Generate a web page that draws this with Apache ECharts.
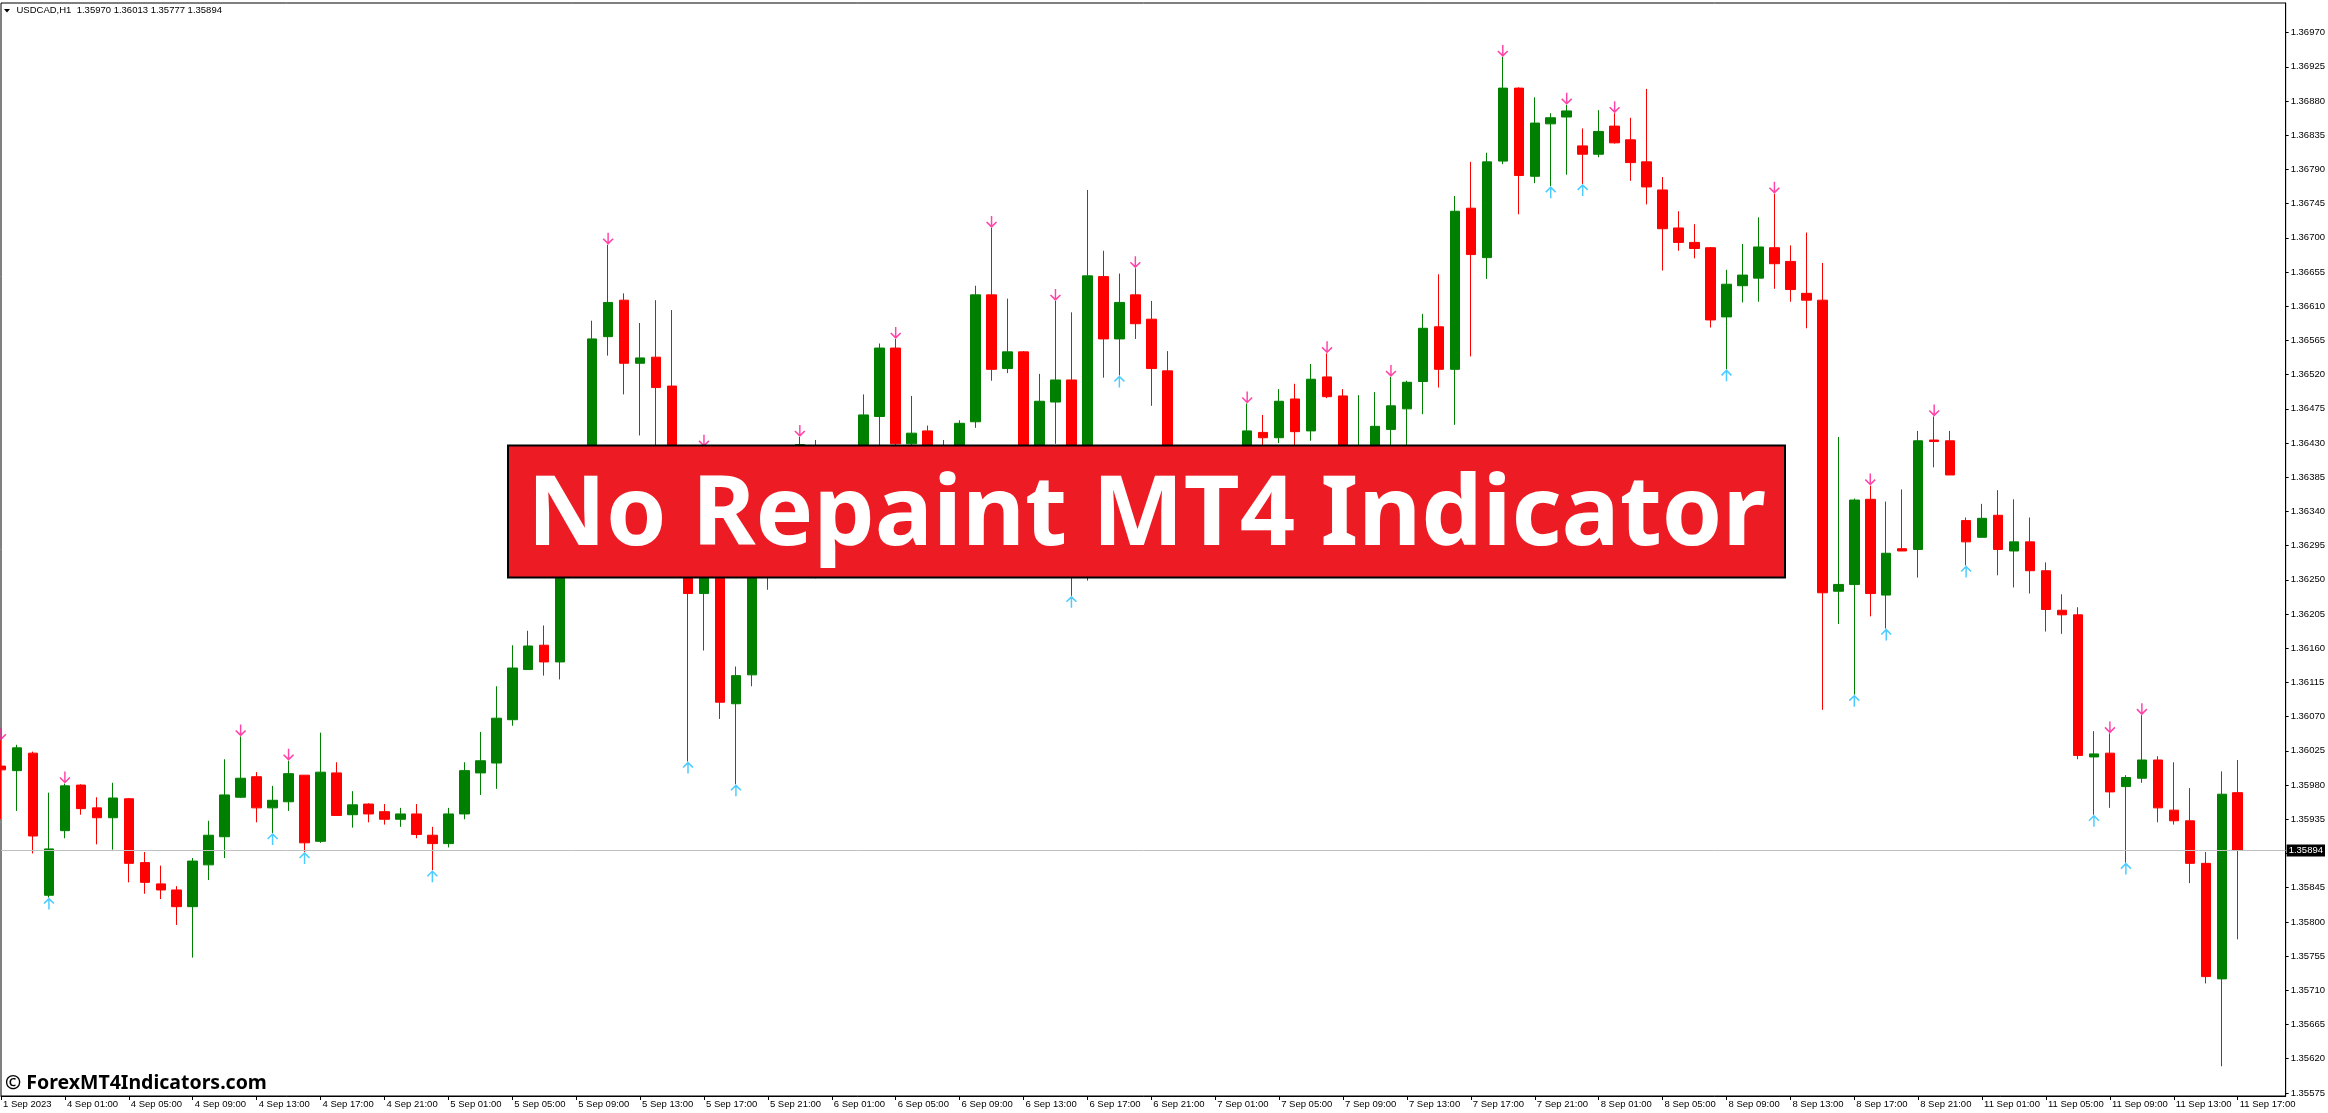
<!DOCTYPE html>
<html><head><meta charset="utf-8">
<script src="https://cdn.jsdelivr.net/npm/echarts@6/dist/echarts.min.js"></script>
<style>html,body{margin:0;padding:0;background:#fff}#c{width:2328px;height:1113px}</style>
</head><body><div id="c"></div>
<script>
const symbolName = 'USDCAD,H1';
const xTickLabels = ['1 Sep 2023',
 '4 Sep 01:00','4 Sep 05:00','4 Sep 09:00','4 Sep 13:00','4 Sep 17:00','4 Sep 21:00',
 '5 Sep 01:00','5 Sep 05:00','5 Sep 09:00','5 Sep 13:00','5 Sep 17:00','5 Sep 21:00',
 '6 Sep 01:00','6 Sep 05:00','6 Sep 09:00','6 Sep 13:00','6 Sep 17:00','6 Sep 21:00',
 '7 Sep 01:00','7 Sep 05:00','7 Sep 09:00','7 Sep 13:00','7 Sep 17:00','7 Sep 21:00',
 '8 Sep 01:00','8 Sep 05:00','8 Sep 09:00','8 Sep 13:00','8 Sep 17:00','8 Sep 21:00',
 '11 Sep 01:00','11 Sep 05:00','11 Sep 09:00','11 Sep 13:00','11 Sep 17:00'];
const yTickValues = [1.35575,1.35620,1.35665,1.35710,1.35755,1.35800,1.35845,1.35890,1.35935,1.35980,
 1.36025,1.36070,1.36115,1.36160,1.36205,1.36250,1.36295,1.36340,1.36385,1.36430,
 1.36475,1.36520,1.36565,1.36610,1.36655,1.36700,1.36745,1.36790,1.36835,1.36880,1.36925,1.36970];

const opens = [
 1.36005,1.35999,1.36022,1.35835,1.35920,1.35980,1.35950,1.35937,1.35962,1.35878,
 1.35850,1.35842,1.35820,1.35875,1.35912,1.35964,1.35991,1.35950,1.35958,1.35993,
 1.35906,1.35996,1.35941,1.35955,1.35945,1.35935,1.35942,1.35914,1.35903,1.35942,
 1.35996,1.36009,1.36066,1.36132,1.36164,1.36142,1.36300,1.36390,1.36570,1.36618,
 1.36535,1.36543,1.36505,1.36360,1.36232,1.36310,1.36087,1.36125,1.36330,1.36390,
 1.36400,1.36425,1.36330,1.36300,1.36350,1.36465,1.36555,1.36429,1.36446,1.36380,
 1.36340,1.36458,1.36625,1.36528,1.36550,1.36330,1.36484,1.36513,1.36300,1.36649,
 1.36567,1.36625,1.36593,1.36525,1.36380,1.36330,1.36360,1.36400,1.36390,1.36444,
 1.36437,1.36488,1.36446,1.36517,1.36492,1.36400,1.36410,1.36448,1.36475,1.36511,
 1.36583,1.36527,1.36739,1.36674,1.36801,1.36897,1.36781,1.36850,1.36859,1.36821,
 1.36810,1.36847,1.36829,1.36800,1.36763,1.36713,1.36694,1.36687,1.36596,1.36637,
 1.36647,1.36687,1.36669,1.36627,1.36618,1.36235,1.36244,1.36356,1.36230,1.36291,
 1.36290,1.36434,1.36433,1.36328,1.36306,1.36335,1.36288,1.36300,1.36262,1.36210,
 1.36204,1.36017,1.36022,1.35978,1.35989,1.36013,1.35947,1.35933,1.35877,1.35725,
 1.35970];
const highs = [
 1.36039,1.36033,1.36024,1.35970,1.35982,1.35981,1.35964,1.35983,1.35963,1.35892,
 1.35874,1.35847,1.35884,1.35933,1.36014,1.36044,1.35997,1.35979,1.36012,1.35993,
 1.36049,1.36010,1.35972,1.35956,1.35955,1.35950,1.35955,1.35925,1.35950,1.36010,
 1.36050,1.36110,1.36164,1.36183,1.36190,1.36310,1.36410,1.36591,1.36691,1.36627,
 1.36588,1.36618,1.36605,1.36380,1.36425,1.36330,1.36136,1.36360,1.36410,1.36420,
 1.36438,1.36434,1.36360,1.36380,1.36494,1.36561,1.36567,1.36492,1.36453,1.36434,
 1.36460,1.36637,1.36713,1.36620,1.36551,1.36521,1.36617,1.36602,1.36763,1.36683,
 1.36653,1.36660,1.36617,1.36551,1.36400,1.36380,1.36420,1.36415,1.36482,1.36467,
 1.36501,1.36508,1.36534,1.36548,1.36501,1.36493,1.36497,1.36517,1.36512,1.36600,
 1.36652,1.36755,1.36800,1.36812,1.36938,1.36898,1.36885,1.36864,1.36875,1.36844,
 1.36868,1.36864,1.36858,1.36896,1.36780,1.36735,1.36718,1.36688,1.36658,1.36692,
 1.36727,1.36758,1.36690,1.36707,1.36667,1.36438,1.36357,1.36374,1.36353,1.36369,
 1.36446,1.36465,1.36446,1.36332,1.36350,1.36368,1.36356,1.36332,1.36273,1.36231,
 1.36214,1.36051,1.36048,1.35993,1.36072,1.36018,1.36010,1.35976,1.35892,1.35998,
 1.36013];
const lows = [
 1.35935,1.35946,1.35890,1.35832,1.35910,1.35941,1.35902,1.35895,1.35852,1.35837,
 1.35830,1.35796,1.35753,1.35855,1.35884,1.35963,1.35931,1.35917,1.35946,1.35892,
 1.35904,1.35940,1.35924,1.35931,1.35928,1.35925,1.35910,1.35868,1.35898,1.35935,
 1.35967,1.35975,1.36058,1.36132,1.36124,1.36119,1.36280,1.36370,1.36545,1.36494,
 1.36440,1.36410,1.36340,1.36011,1.36157,1.36067,1.35981,1.36110,1.36237,1.36360,
 1.36380,1.36252,1.36280,1.36290,1.36330,1.36410,1.36400,1.36390,1.36350,1.36320,
 1.36320,1.36450,1.36512,1.36522,1.36300,1.36310,1.36429,1.36229,1.36249,1.36516,
 1.36519,1.36567,1.36479,1.36360,1.36300,1.36310,1.36340,1.36370,1.36380,1.36410,
 1.36430,1.36410,1.36433,1.36489,1.36380,1.36380,1.36400,1.36420,1.36420,1.36468,
 1.36503,1.36454,1.36544,1.36646,1.36797,1.36731,1.36772,1.36768,1.36783,1.36771,
 1.36806,1.36824,1.36775,1.36744,1.36657,1.36683,1.36673,1.36582,1.36527,1.36615,
 1.36616,1.36633,1.36616,1.36581,1.36079,1.36192,1.36099,1.36202,1.36186,1.36288,
 1.36253,1.36398,1.36388,1.36269,1.36306,1.36256,1.36240,1.36232,1.36182,1.36179,
 1.36014,1.35941,1.35950,1.35878,1.35983,1.35931,1.35928,1.35851,1.35719,1.35610,
 1.35777];
const closes = [
 1.36000,1.36029,1.35913,1.35896,1.35979,1.35949,1.35937,1.35963,1.35877,1.35852,
 1.35842,1.35820,1.35880,1.35914,1.35967,1.35989,1.35950,1.35960,1.35995,1.35904,
 1.35997,1.35940,1.35954,1.35942,1.35935,1.35942,1.35915,1.35903,1.35942,1.35999,
 1.36012,1.36068,1.36134,1.36163,1.36142,1.36300,1.36390,1.36567,1.36615,1.36535,
 1.36542,1.36503,1.36360,1.36232,1.36310,1.36089,1.36124,1.36330,1.36390,1.36400,
 1.36428,1.36330,1.36300,1.36350,1.36467,1.36555,1.36429,1.36443,1.36380,1.36340,
 1.36456,1.36625,1.36527,1.36550,1.36330,1.36485,1.36513,1.36300,1.36650,1.36567,
 1.36615,1.36587,1.36528,1.36380,1.36330,1.36360,1.36400,1.36390,1.36446,1.36437,
 1.36485,1.36445,1.36514,1.36491,1.36400,1.36420,1.36452,1.36479,1.36510,1.36581,
 1.36527,1.36735,1.36678,1.36800,1.36897,1.36782,1.36851,1.36858,1.36867,1.36810,
 1.36840,1.36825,1.36799,1.36767,1.36712,1.36694,1.36686,1.36592,1.36639,1.36651,
 1.36688,1.36666,1.36632,1.36618,1.36233,1.36244,1.36355,1.36232,1.36285,1.36288,
 1.36433,1.36432,1.36388,1.36300,1.36331,1.36290,1.36300,1.36262,1.36211,1.36204,
 1.36019,1.36021,1.35971,1.35990,1.36013,1.35950,1.35933,1.35877,1.35728,1.35968,
 1.35894];
const downArrowIdx = [0,4,15,18,38,44,50,56,62,66,71,78,83,87,94,98,101,111,117,121,132,134];
const upArrowIdx = [3,17,19,27,43,46,67,70,97,99,108,116,118,123,131,133];
const bannerText = 'No Repaint MT4 Indicator';
const watermarkText = '\u00A9 ForexMT4Indicators.com';

const N_SLOTS = 144;
const cats = Array.from({length: N_SLOTS}, (_, i) => String(i));
const last = opens.length - 1;
const headerText = symbolName + '  ' + [opens[last], highs[last], lows[last], closes[last]].map(v => v.toFixed(5)).join(' ');
const AX_FONT = 'Liberation Sans';
const downPath = 'path://M5.2,0 L6.8,0 L6.8,10 L10.8,6 L12,7.2 L6,13.2 L0,7.2 L1.2,6 L5.2,10 Z';
const upPath = 'path://M5.2,13.2 L6.8,13.2 L6.8,3.2 L10.8,7.2 L12,6 L6,0 L0,6 L1.2,7.2 L5.2,3.2 Z';

const chart = echarts.init(document.getElementById('c'), null, {renderer: 'canvas'});
chart.setOption({
  animation: false,
  backgroundColor: '#fff',
  grid: {left: 1, top: 3, right: 40, bottom: 17, show: true, borderColor: '#000', borderWidth: 1, backgroundColor: '#fff'},
  xAxis: {
    type: 'category', data: cats, boundaryGap: false,
    axisLine: {show: true, lineStyle: {color: '#000', width: 1}},
    axisTick: {show: true, interval: 3, length: 4, lineStyle: {color: '#000'}},
    axisLabel: {interval: 3, align: 'left', margin: 3, padding: [0, 0, 0, 2], color: '#000', fontFamily: AX_FONT, fontSize: 9.5,
      formatter: (v, idx) => (idx % 4 === 0 && xTickLabels[idx / 4]) ? xTickLabels[idx / 4] : ''},
    splitLine: {show: false}
  },
  yAxis: {
    type: 'value', position: 'right', min: 1.355709, max: 1.370090,
    axisLine: {show: true, lineStyle: {color: '#000', width: 1}},
    axisTick: {show: true, length: 3, customValues: yTickValues, lineStyle: {color: '#000'}},
    axisLabel: {customValues: yTickValues, margin: 5, color: '#000', fontFamily: AX_FONT, fontSize: 9.5,
      formatter: v => Number(v).toFixed(5)},
    splitLine: {show: false}
  },
  series: [
    {
      type: 'line', data: [], silent: true, showSymbol: false, z: 1,
      markLine: {
        silent: true, symbol: ['none', 'none'], animation: false, precision: 5,
        lineStyle: {color: '#c0c0c0', width: 1, type: 'solid'},
        label: {show: true, position: 'end', distance: 1, formatter: () => closes[last].toFixed(5),
          backgroundColor: '#000', color: '#fff', fontFamily: AX_FONT, fontSize: 9.5, padding: [1, 2, 1, 2]},
        data: [{yAxis: closes[last]}]
      }
    },
    {
      type: 'candlestick', barWidth: 10, z: 2,
      data: opens.map((o, i) => [o, closes[i], lows[i], highs[i]]),
      itemStyle: {color: '#008000', color0: '#ff0000', borderColor: '#008000', borderColor0: '#ff0000', borderWidth: 1}
    },
    {
      type: 'scatter', symbol: downPath, symbolSize: [11, 12], symbolOffset: [0, '-50%'], z: 3,
      itemStyle: {color: '#ff1493'},
      data: downArrowIdx.map(i => [i, highs[i]])
    },
    {
      type: 'scatter', symbol: upPath, symbolSize: [11, 12], symbolOffset: [0, '50%'], z: 3,
      itemStyle: {color: '#1ebeff'},
      data: upArrowIdx.map(i => [i, lows[i]])
    }
  ],
  graphic: [
    {type: 'polygon', zlevel: 1, shape: {points: [[4, 9], [10, 9], [7, 12.5]]}, style: {fill: '#000'}},
    {type: 'text', zlevel: 1, x: 16.5, y: 10.7, style: {text: headerText, fontFamily: AX_FONT, fontSize: 9.5, fill: '#000', verticalAlign: 'middle'}},
    {type: 'rect', zlevel: 1, shape: {x: 508, y: 445.5, width: 1277, height: 132}, style: {fill: '#ED1C24', stroke: '#000', lineWidth: 2}},
    {type: 'text', zlevel: 1, x: 1146.5, y: 517, style: {text: bannerText, fontFamily: 'Noto Sans', fontWeight: 'bold', fontSize: 97, fill: '#fff', align: 'center', verticalAlign: 'middle'}},
    {type: 'text', zlevel: 1, x: 5, y: 1083, style: {text: watermarkText, fontFamily: 'Noto Sans', fontWeight: 'bold', fontSize: 19.5, fill: '#000', verticalAlign: 'middle'}}
  ]
});
</script>
</body></html>
